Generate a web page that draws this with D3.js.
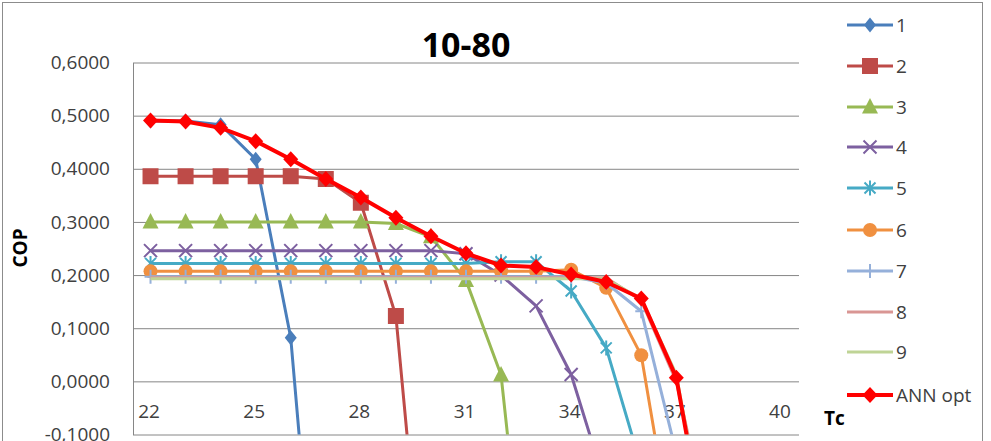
<!DOCTYPE html>
<html>
<head>
<meta charset="utf-8">
<script src="https://cdn.jsdelivr.net/npm/d3@7"></script>
<style>
  body { margin: 0; background: #fff; }
  svg { display: block; font-family: "Open Sans", "Liberation Sans", sans-serif; }
</style>
</head>
<body>
<script>
// Tc categories on the x axis
var tc = [22, 23, 24, 25, 26, 27, 28, 29, 30, 31, 32, 33, 34, 35, 36, 37, 38, 39, 40];
var xTickLabels = [22, 25, 28, 31, 34, 37, 40];
var yTickValues = [-0.1, 0, 0.1, 0.2, 0.3, 0.4, 0.5, 0.6];

// COP values (null = no point)
var s1 = [0.490, 0.490, 0.483, 0.418, 0.082, -0.68];
var s2 = [0.386, 0.386, 0.386, 0.386, 0.386, 0.381, 0.336, 0.123, -0.58];
var s3 = [0.300, 0.300, 0.300, 0.300, 0.300, 0.300, 0.300, 0.297, 0.272, 0.190, 0.012, -0.60];
var s4 = [0.246, 0.246, 0.246, 0.246, 0.246, 0.246, 0.246, 0.246, 0.246, 0.240, 0.200, 0.142, 0.013, -0.20];
var s5 = [0.222, 0.222, 0.222, 0.222, 0.222, 0.222, 0.222, 0.222, 0.222, 0.222, 0.225, 0.225, 0.170, 0.063, -0.16];
var s6 = [0.207, 0.207, 0.207, 0.207, 0.207, 0.207, 0.207, 0.207, 0.207, 0.207, 0.207, 0.207, 0.210, 0.176, 0.049, -0.34];
var s7 = [0.197, 0.197, 0.197, 0.197, 0.197, 0.197, 0.197, 0.197, 0.197, 0.197, 0.197, 0.197, 0.197, 0.185, 0.132, -0.135];
var s8 = [0.195, 0.195, 0.195, 0.195, 0.195, 0.195, 0.195, 0.195, 0.195, 0.195, 0.195, 0.195, 0.195, 0.195, 0.152, 0.000, -0.30];
var s9 = [0.193, 0.193, 0.193, 0.193, 0.193, 0.193, 0.193, 0.193, 0.193, 0.193, 0.193, 0.193, 0.193, 0.193, 0.155, 0.013, -0.35];
var annOpt = [0.491, 0.489, 0.477, 0.452, 0.418, 0.381, 0.346, 0.308, 0.273, 0.241, 0.218, 0.215, 0.201, 0.187, 0.156, 0.007, -0.36];

var seriesNames = ["1", "2", "3", "4", "5", "6", "7", "8", "9", "ANN opt"];
var seriesValues = [s1, s2, s3, s4, s5, s6, s7, s8, s9, annOpt];
var seriesColors = ["#4A7EBB", "#BE4B48", "#98B954", "#7D60A0", "#46AAC5", "#F09040", "#95B0DA", "#D99694", "#BFD496", "#FF0000"];
var seriesMarkers = ["diamond", "square", "triangle", "x", "star", "circle", "plus", "none", "none", "bigdiamond"];

var W = 991, H = 441;
var pLeft = 133, pRight = 799, pTop = 62.5, pBottom = 434.5;

var svg = d3.select("body").append("svg")
    .attr("width", W)
    .attr("height", H);

// chart border
svg.append("rect")
    .attr("x", 2.5).attr("y", 2.5)
    .attr("width", 980).attr("height", 480)
    .attr("fill", "#fff")
    .attr("stroke", "#8c8c8c");

var x = d3.scalePoint().domain(tc).range([pLeft, pRight]).padding(0.5);
var y = d3.scaleLinear().domain([-0.1, 0.6]).range([pBottom, pTop]);

var fmt = function(d) { return d3.format(".4f")(d).replace(".", ",").replace("−", "-"); };

// y axis + gridlines
var gy = svg.append("g")
    .attr("transform", "translate(" + pLeft + ",0)")
    .call(d3.axisLeft(y).tickValues(yTickValues).tickSize(-(pRight - pLeft)).tickSizeOuter(0).tickPadding(23).tickFormat(fmt));
gy.select(".domain").attr("stroke", "#868686");
gy.selectAll(".tick line").attr("stroke", "#868686");
gy.selectAll(".tick text")
    .attr("fill", "#404040")
    .style("font-size", "19px")
    .style("font-family", "'Open Sans', sans-serif");

// x axis labels (sit under the zero line)
var gx = svg.append("g")
    .attr("transform", "translate(-2," + y(0) + ")")
    .call(d3.axisBottom(x).tickValues(xTickLabels).tickSize(0).tickPadding(23));
gx.select(".domain").remove();
gx.selectAll(".tick text")
    .attr("fill", "#404040")
    .style("font-size", "19px")
    .style("font-family", "'Open Sans', sans-serif");

// clip for the plot area
svg.append("clipPath").attr("id", "plotclip")
  .append("rect")
    .attr("x", pLeft).attr("y", pTop)
    .attr("width", pRight - pLeft).attr("height", pBottom - pTop);

function markerPath(type) {
  switch (type) {
    case "diamond": return "M0,-7.5L6,0L0,7.5L-6,0Z";
    case "bigdiamond": return "M0,-8L7.5,0L0,8L-7.5,0Z";
    case "square": return "M-8,-8H8V8H-8Z";
    case "triangle": return "M0,-9L8,6.5H-8Z";
    case "x": return "M-6.5,-6.5L6.5,6.5M6.5,-6.5L-6.5,6.5";
    case "star": return "M-5.5,-5.5L5.5,5.5M5.5,-5.5L-5.5,5.5M0,-7.5V7.5";
    case "plus": return "M-6,0H6M0,-7V7";
    case "circle": return "M7,0A7,7 0 1,1 -7,0A7,7 0 1,1 7,0Z";
  }
  return null;
}
function isStroked(type) { return type == "x" || type == "star" || type == "plus"; }

var line = d3.line()
    .defined(function(d) { return d.v != null; })
    .x(function(d) { return x(d.t); })
    .y(function(d) { return y(d.v); });

var plot = svg.append("g").attr("clip-path", "url(#plotclip)");

seriesValues.forEach(function(vals, i) {
  var pts = tc.map(function(t, j) { return { t: t, v: j < vals.length ? vals[j] : null }; });
  var g = plot.append("g").attr("class", "series");
  g.append("path")
      .datum(pts)
      .attr("fill", "none")
      .attr("stroke", seriesColors[i])
      .attr("stroke-width", i == 9 ? 4 : 3)
      .attr("stroke-linejoin", "round")
      .attr("d", line);
  var mp = markerPath(seriesMarkers[i]);
  if (mp) {
    g.selectAll("path.mk")
        .data(pts.filter(function(d) { return d.v != null; }))
        .enter().append("path")
        .attr("class", "mk")
        .attr("transform", function(d) { return "translate(" + x(d.t) + "," + y(d.v) + ")"; })
        .attr("d", mp)
        .attr("fill", isStroked(seriesMarkers[i]) ? "none" : seriesColors[i])
        .attr("stroke", seriesColors[i])
        .attr("stroke-width", isStroked(seriesMarkers[i]) ? 2 : 0);
  }
});

// title
svg.append("text")
    .attr("x", (pLeft + pRight) / 2)
    .attr("y", 57)
    .attr("text-anchor", "middle")
    .style("font-size", "34px")
    .style("font-weight", "bold")
    .attr("fill", "#000")
    .text("10-80");

// axis titles
svg.append("text")
    .attr("transform", "translate(27,248) rotate(-90)")
    .attr("text-anchor", "middle")
    .style("font-size", "19px")
    .style("font-weight", "bold")
    .text("COP");

svg.append("text")
    .attr("x", 824)
    .attr("y", 425)
    .style("font-size", "19px")
    .style("font-weight", "bold")
    .text("Tc");

// legend
var legendY = [25, 66, 107, 147, 188, 230, 271, 312, 352, 395];
var legend = svg.append("g").attr("class", "legend");
seriesNames.forEach(function(name, i) {
  var g = legend.append("g").attr("transform", "translate(0," + legendY[i] + ")");
  g.append("line")
      .attr("x1", 847).attr("x2", 893)
      .attr("stroke", seriesColors[i])
      .attr("stroke-width", i == 9 ? 4 : 3);
  var mp = markerPath(seriesMarkers[i]);
  if (mp) {
    g.append("path")
        .attr("transform", "translate(870,0)")
        .attr("d", mp)
        .attr("fill", isStroked(seriesMarkers[i]) ? "none" : seriesColors[i])
        .attr("stroke", seriesColors[i])
        .attr("stroke-width", isStroked(seriesMarkers[i]) ? 2 : 0);
  }
  g.append("text")
      .attr("x", 896)
      .attr("dy", "0.35em")
      .attr("fill", "#404040")
      .style("font-size", "19px")
      .text(name);
});
</script>
</body>
</html>
